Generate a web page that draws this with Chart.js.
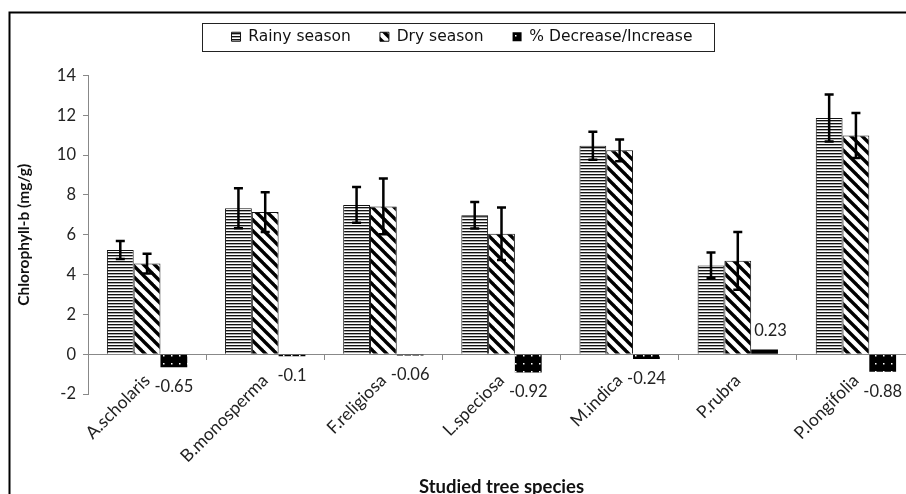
<!DOCTYPE html>
<html>
<head>
<meta charset="utf-8">
<script src="https://cdn.jsdelivr.net/npm/chart.js@4.4.1/dist/chart.umd.min.js"></script>
<style>
  html, body { margin: 0; padding: 0; background: #fff; overflow: hidden; width: 906px; height: 494px; }
  #wrap { position: absolute; left: 0; top: 0; width: 930px; height: 510px; }
</style>
</head>
<body>
<div id="wrap"><canvas id="chart" width="930" height="510"></canvas></div>
<script>
// Chlorophyll-b content of tree leaves, rainy vs dry season
const species = ['A.scholaris', 'B.monosperma', 'F.religiosa', 'L.speciosa', 'M.indica', 'P.rubra', 'P.longifolia'];
const rainySeason = [5.23, 7.33, 7.5, 6.98, 10.47, 4.46, 11.86];
const rainyError = [0.45, 1.0, 0.9, 0.67, 0.7, 0.65, 1.18];
const drySeason = [4.55, 7.14, 7.42, 6.05, 10.24, 4.69, 10.99];
const dryError = [0.5, 1.0, 1.4, 1.32, 0.55, 1.45, 1.13];
const percentChange = [-0.65, -0.1, -0.06, -0.92, -0.24, 0.23, -0.88];
const yTickValues = [-2, 0, 2, 4, 6, 8, 10, 12, 14];

function makePattern(size, paint) {
  const c = document.createElement('canvas');
  c.width = size; c.height = size;
  const g = c.getContext('2d');
  paint(g, size);
  return g.createPattern(c, 'repeat');
}

const ctx = document.getElementById('chart').getContext('2d');

// horizontal hatching
const rainyFill = makePattern(3, (g, s) => {
  g.fillStyle = '#fff'; g.fillRect(0, 0, s, s);
  g.fillStyle = '#111'; g.fillRect(0, 0, s, 1);
  g.fillStyle = '#aaa'; g.fillRect(0, 1, s, 1);
});
// wide downward diagonal
const dryFill = makePattern(11, (g, s) => {
  g.fillStyle = '#fff'; g.fillRect(0, 0, s, s);
  g.strokeStyle = '#000'; g.lineWidth = 3.4;
  for (const o of [-s, 0, s]) {
    g.beginPath(); g.moveTo(o - 2, -2); g.lineTo(o + s + 2, s + 2); g.stroke();
  }
});
// black with small white dots
const changeFill = makePattern(8, (g, s) => {
  g.fillStyle = '#000'; g.fillRect(0, 0, s, s);
  g.fillStyle = '#fff'; g.fillRect(3, 3, 1.5, 1.5);
});

const frame = {
  id: 'frame',
  beforeDraw(chart) {
    const c = chart.ctx;
    c.save();
    c.fillStyle = '#fff';
    c.fillRect(0, 0, chart.width, chart.height);
    c.strokeStyle = '#000';
    c.lineWidth = 2;
    c.strokeRect(9.5, 12.5, 3000, 3000);
    c.restore();
  }
};

const legendSpacing = {
  id: 'legendSpacing',
  beforeInit(chart) {
    const fit = chart.legend.fit;
    chart.legend.fit = function () { fit.call(this); this.height += 21; };
  },
  afterDraw(chart) {
    const hb = chart.legend.legendHitBoxes;
    if (!hb || !hb.length) return;
    const last = hb[hb.length - 1];
    const cy = hb[0].top + hb[0].height / 2;
    const c = chart.ctx;
    c.save();
    c.strokeStyle = '#222';
    c.lineWidth = 1;
    const l = Math.round(hb[0].left - 30) + 0.5;
    const r = Math.round(last.left + last.width + 22) + 0.5;
    const t = Math.round(cy - 14) + 0.5;
    const b = Math.round(cy + 14) + 0.5;
    c.strokeRect(l, t, r - l, b - t);
    c.restore();
  }
};

const errorBars = {
  id: 'errorBars',
  afterDatasetsDraw(chart) {
    const y = chart.scales.y;
    const c = chart.ctx;
    c.save();
    c.strokeStyle = '#000';
    c.lineWidth = 2.5;
    [[0, rainySeason, rainyError], [1, drySeason, dryError]].forEach(([idx, vals, errs]) => {
      chart.getDatasetMeta(idx).data.forEach((bar, i) => {
        const hi = y.getPixelForValue(vals[i] + errs[i]);
        const lo = y.getPixelForValue(vals[i] - errs[i]);
        const x = bar.x;
        c.beginPath();
        c.moveTo(x, hi); c.lineTo(x, lo);
        c.moveTo(x - 4.5, hi); c.lineTo(x + 4.5, hi);
        c.moveTo(x - 4.5, lo); c.lineTo(x + 4.5, lo);
        c.stroke();
      });
    });
    c.restore();
  }
};

const changeLabels = {
  id: 'changeLabels',
  afterDatasetsDraw(chart) {
    const c = chart.ctx;
    c.save();
    c.font = '16.5px Lato';
    c.fillStyle = '#222';
    c.textAlign = 'center';
    c.textBaseline = 'middle';
    chart.getDatasetMeta(2).data.forEach((bar, i) => {
      const v = percentChange[i];
      const ty = v < 0 ? bar.y + 19.5 : bar.y - 19;
      const tx = v < 0 ? bar.x : bar.x + 6;
      c.fillText(String(v), tx, ty);
    });
    c.restore();
  }
};

new Chart(ctx, {
  type: 'bar',
  data: {
    labels: species,
    datasets: [
      { label: 'Rainy season', data: rainySeason, backgroundColor: rainyFill, borderColor: '#111', borderWidth: 1,
        xAxisID: 'x', yAxisID: 'y', categoryPercentage: 0.68, barPercentage: 1.0 },
      { label: 'Dry season', data: drySeason, backgroundColor: dryFill, borderColor: '#111', borderWidth: 1,
        xAxisID: 'x', yAxisID: 'y', categoryPercentage: 0.68, barPercentage: 1.0 },
      { label: '% Decrease/Increase', data: percentChange, backgroundColor: changeFill, borderColor: '#000', borderWidth: 0,
        xAxisID: 'x', yAxisID: 'y', categoryPercentage: 0.68, barPercentage: 1.0 }
    ]
  },
  options: {
    responsive: false,
    animation: false,
    devicePixelRatio: 1,
    layout: { padding: { left: 9, right: 15, top: 0, bottom: 0 } },
    plugins: {
      legend: {
        position: 'top',
        labels: {
          boxWidth: 9, boxHeight: 9, padding: 29,
          font: { family: 'DejaVu Sans', size: 15.5 },
          color: '#111'
        }
      },
      tooltip: { enabled: false }
    },
    scales: {
      x: {
        type: 'category',
        position: { y: 0 },
        offset: true,
        grid: { offset: true, drawOnChartArea: false, drawTicks: true, tickLength: 5, color: '#888' },
        border: { color: '#888', width: 1 },
        ticks: { minRotation: 45, maxRotation: 45, autoSkip: false, padding: 11,
                 font: { family: 'Lato', size: 17.5 }, color: '#222' }
      },
      xTitle: {
        type: 'category',
        position: 'bottom',
        grid: { display: false },
        border: { display: false },
        ticks: { display: false },
        title: { display: true, text: 'Studied tree species', color: '#111',
                 font: { family: 'Lato', size: 18.5, weight: 'bold' }, padding: { top: 0, bottom: 12 } },
        afterFit(s) { s.height = 116; }
      },
      y: {
        position: 'left',
        min: -2, max: 14,
        afterBuildTicks(s) { s.ticks = yTickValues.map(v => ({ value: v })); },
        grid: { drawOnChartArea: false, drawTicks: true, tickLength: 5, color: '#888' },
        border: { color: '#888', width: 1 },
        ticks: { padding: 7, font: { family: 'Lato', size: 16.5 }, color: '#222' },
        title: { display: true, text: 'Chlorophyll-b (mg/g)', color: '#111',
                 font: { family: 'Lato', size: 15.5, weight: 'bold' }, padding: { top: 6, bottom: 0 } },
        afterFit(s) { s.width = 79; }
      }
    }
  },
  plugins: [frame, legendSpacing, errorBars, changeLabels]
});
</script>
</body>
</html>
